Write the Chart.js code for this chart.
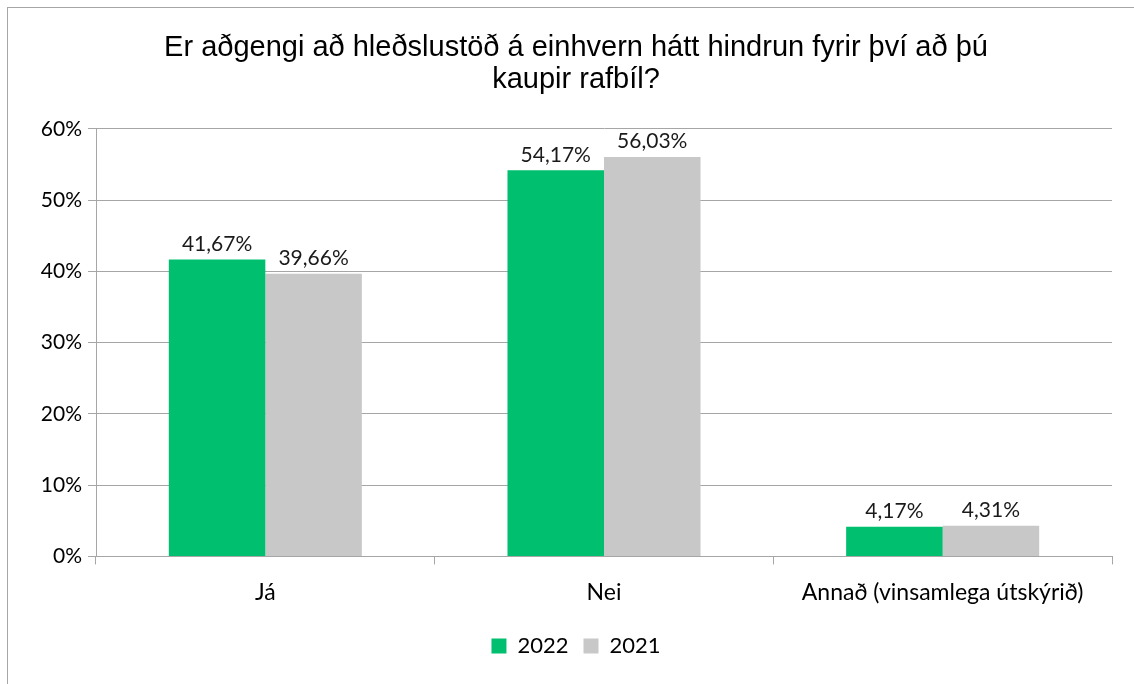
<!DOCTYPE html>
<html lang="is">
<head>
    <meta charset="UTF-8">
    <title>Hleðslustöð</title>
    <style>
        body {
            margin: 0;
            padding: 0;
            background: #fff;
            overflow: hidden;
        }
        .wrap {
            position: relative;
            width: 1134px;
            height: 684px;
        }
        /* frame of the chart; its right and bottom edges are cut off like in the original */
        .frame {
            position: absolute;
            left: 7px;
            top: 7px;
            width: 1200px;
            height: 800px;
            border-left: 1px solid #a6a6a6;
            border-top: 1px solid #a6a6a6;
            pointer-events: none;
        }
    </style>
</head>
<body>
<div class="wrap">
    <canvas id="chart" width="1134" height="684"></canvas>
    <div class="frame"></div>
</div>

<script src="https://cdn.jsdelivr.net/npm/chart.js"></script>
<script>
    // data
    const categories = ['Já', 'Nei', 'Annað (vinsamlega útskýrið)'];
    const values2022 = [41.67, 54.17, 4.17];
    const values2021 = [39.66, 56.03, 4.31];
    const yTicks = [0, 10, 20, 30, 40, 50, 60];

    const green = '#00bf6f';
    const grey = '#c8c8c8';
    const lineGrey = '#a6a6a6';
    const labelFont = 'Lato, "Open Sans", sans-serif';

    function pct(v) {
        return v.toFixed(2).replace('.', ',') + '%';
    }

    // writes the value above each bar
    const barLabels = {
        id: 'barLabels',
        afterDatasetsDraw(chart) {
            const ctx = chart.ctx;
            ctx.save();
            ctx.font = '21px ' + labelFont;
            ctx.fillStyle = '#1a1a1a';
            ctx.textAlign = 'center';
            ctx.textBaseline = 'bottom';
            chart.data.datasets.forEach((ds, i) => {
                chart.getDatasetMeta(i).data.forEach((bar, j) => {
                    ctx.fillText(pct(ds.data[j]), bar.x, bar.y - 5);
                });
            });
            ctx.restore();
        }
    };

    new Chart(document.getElementById('chart'), {
        type: 'bar',
        data: {
            labels: categories,
            datasets: [
                { label: '2022', data: values2022, backgroundColor: green },
                { label: '2021', data: values2021, backgroundColor: grey }
            ]
        },
        options: {
            responsive: false,
            animation: false,
            // wider left padding pushes the centred title a bit to the right
            layout: { padding: { left: 40, right: 22, top: 18, bottom: 17 } },
            datasets: {
                bar: { categoryPercentage: 0.57, barPercentage: 1.0 }
            },
            plugins: {
                title: {
                    display: true,
                    text: ['Er aðgengi að hleðslustöð á einhvern hátt hindrun fyrir því að þú', 'kaupir rafbíl?'],
                    color: '#000',
                    font: { family: '"Liberation Sans", Arial, sans-serif', size: 29, weight: 'normal', lineHeight: 1.1 },
                    padding: { top: 14, bottom: 33 }
                },
                legend: {
                    position: 'bottom',
                    labels: {
                        color: '#000',
                        boxWidth: 15,
                        boxHeight: 15,
                        padding: 15,
                        font: { family: labelFont, size: 22 }
                    }
                },
                tooltip: { enabled: false }
            },
            scales: {
                x: {
                    grid: {
                        offset: true,
                        drawOnChartArea: false,
                        drawTicks: true,
                        tickLength: 8,
                        color: lineGrey
                    },
                    border: { color: lineGrey },
                    ticks: {
                        color: '#000',
                        padding: 14,
                        font: { family: labelFont, size: 23 }
                    }
                },
                y: {
                    min: 0,
                    max: 60,
                    afterBuildTicks: (axis) => {
                        axis.ticks = yTicks.map(v => ({ value: v }));
                    },
                    afterFit: (axis) => {
                        axis.width = 56;
                    },
                    grid: {
                        color: lineGrey,
                        drawTicks: true,
                        tickLength: 8
                    },
                    border: { color: lineGrey },
                    ticks: {
                        color: '#000',
                        padding: 6,
                        font: { family: labelFont, size: 21 },
                        callback: (v) => v + '%'
                    }
                }
            }
        },
        plugins: [barLabels]
    });
</script>
</body>
</html>
